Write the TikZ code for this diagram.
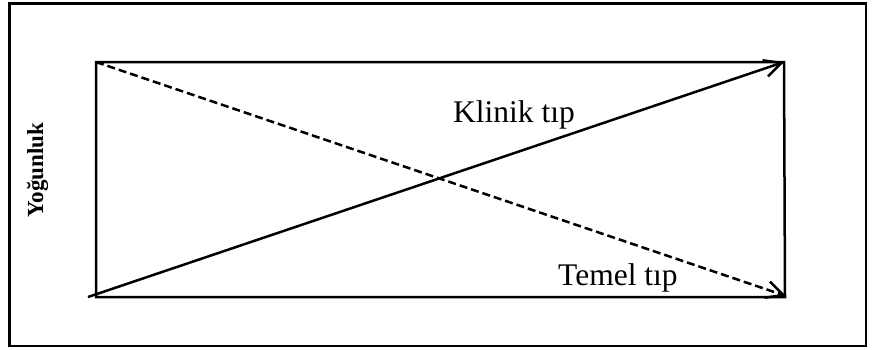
\documentclass[tikz,border=0pt]{standalone}
\usepackage{fontspec}
\setmainfont{Liberation Serif}
\usetikzlibrary{arrows.meta}
\begin{document}
\begin{tikzpicture}[x=1pt,y=-1pt,
  frame/.style={line width=2.5pt},
  conn/.style={line width=2.5pt,-{Straight Barb[length=17pt,width=17pt,line width=2.5pt]}},
  lbl/.style={font=\fontsize{31.5}{36}\selectfont,inner sep=0pt}]
\useasboundingbox (0,0) rectangle (875,349);
\draw[frame] (9.5,3.5) rectangle (866,346);
\coordinate (tl) at (96,62);
\coordinate (tr) at (784,62);
\coordinate (bl) at (96,297);
\coordinate (br) at (785,297);
\coordinate (s) at (88,297);
\coordinate (d) at (786,296);
\draw[frame] (tl) -- (tr) -- (br) -- (bl) -- cycle;
\draw[conn] (s) -- (tr);
\draw[conn,dash pattern=on 8pt off 4pt] (tl) -- (d);
\node[lbl,anchor=base west] (k) at (453,122) {Klinik tıp};
\node[lbl,anchor=base west] (t) at (558,285) {Temel tıp};
\node[font=\bfseries\fontsize{23}{26}\selectfont,inner sep=0pt,rotate=90,anchor=base] (y) at (43,170) {Yoğunluk};
\end{tikzpicture}
\end{document}
